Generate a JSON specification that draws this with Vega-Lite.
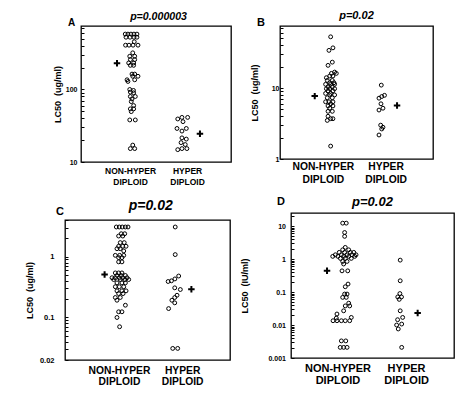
{
"$schema": "https://vega.github.io/schema/vega-lite/v6.json",
"padding": {"left": 24, "top": 9, "right": 5, "bottom": 5},
"autosize": {"type": "pad"},
"config": {
  "view": {"stroke": "black", "strokeWidth": 1.3},
  "font": "Liberation Sans",
  "axis": {"grid": false, "domain": false, "labelFont": "Liberation Sans", "titleFont": "Liberation Sans", "labelFontWeight": "bold", "titleFontWeight": "bold", "labelColor": "black", "titleColor": "black", "tickColor": "black", "labelOverlap": false, "labelFlush": false, "labelBound": false},
  "text": {"font": "Liberation Sans", "fontWeight": "bold", "color": "black"}
},
"datasets": {
  "A": [
    {"x":29.5,"v":580},{"x":31.3,"v":580},{"x":33.3,"v":580},{"x":35.3,"v":580},{"x":37.3,"v":580},
    {"x":30,"v":525},{"x":32.7,"v":525},{"x":35.3,"v":525},{"x":37.3,"v":525},
    {"x":35.5,"v":455},
    {"x":29.7,"v":408},{"x":32,"v":408},{"x":34.7,"v":408},{"x":38,"v":408},
    {"x":34.5,"v":320},
    {"x":32.5,"v":287},{"x":35.8,"v":287},
    {"x":32.9,"v":258},{"x":35.8,"v":258},
    {"x":31.8,"v":232},{"x":35.1,"v":232},
    {"x":32.9,"v":215},{"x":35.1,"v":215},
    {"x":34,"v":163},{"x":35.8,"v":163},
    {"x":34.5,"v":152},{"x":38,"v":152},
    {"x":30.7,"v":136},{"x":35.8,"v":136},
    {"x":31.3,"v":129},
    {"x":32.5,"v":100},{"x":35,"v":97},
    {"x":32.9,"v":92},{"x":35.1,"v":90},
    {"x":32.9,"v":80},{"x":36.2,"v":80},
    {"x":34,"v":74},
    {"x":33.5,"v":68},
    {"x":35.1,"v":60},
    {"x":32.9,"v":54},{"x":35.1,"v":54},
    {"x":33.5,"v":49.5},
    {"x":32.5,"v":38},{"x":36.2,"v":38},
    {"x":34.5,"v":17.1},
    {"x":32.9,"v":15.3},{"x":35.8,"v":15.3},
    {"x":67.3,"v":41.2},{"x":71.1,"v":41.2},{"x":64.5,"v":39.2},{"x":68,"v":36},
    {"x":64,"v":29},{"x":70.2,"v":29},{"x":67.3,"v":26.7},{"x":67.3,"v":21.5},
    {"x":70.2,"v":20.7},{"x":66.7,"v":18.5},{"x":69.5,"v":17.4},{"x":67.3,"v":15.3},
    {"x":70.6,"v":15.3},{"x":64.5,"v":14.8}
  ],
  "Ap": [{"x":24,"v":230},{"x":79.3,"v":24.5}],
  "B": [
    {"x":33.1,"v":52.8},{"x":34.6,"v":36.9},{"x":32,"v":34},{"x":34.2,"v":23.2},{"x":31.4,"v":20.9},
    {"x":35.7,"v":16.8},{"x":33.6,"v":16.1},{"x":36.8,"v":16.1},{"x":32.5,"v":14.8},{"x":34.6,"v":14.8},
    {"x":30.3,"v":14},{"x":30.9,"v":12.8},{"x":34.2,"v":12.8},{"x":32.5,"v":11.9},{"x":35.3,"v":11.9},
    {"x":29.8,"v":11.3},{"x":33.1,"v":11.3},{"x":35.7,"v":11.3},{"x":31.4,"v":10.4},{"x":34.2,"v":10.4},
    {"x":30.3,"v":9.8},{"x":32.5,"v":9.8},{"x":35.7,"v":9.8},{"x":31.4,"v":9.1},{"x":34.6,"v":9.1},
    {"x":29.8,"v":8.4},{"x":33.1,"v":8.4},{"x":32.5,"v":8.0},{"x":35.7,"v":8.0},{"x":30.9,"v":7.3},
    {"x":34.2,"v":7.3},{"x":29.8,"v":6.4},{"x":32,"v":6.4},{"x":34.6,"v":6.4},{"x":33.1,"v":6.0},
    {"x":31.4,"v":5.6},{"x":34.6,"v":5.6},{"x":32.5,"v":5.2},{"x":31.4,"v":4.7},{"x":34.2,"v":4.7},
    {"x":31.4,"v":4.0},{"x":33.1,"v":3.7},{"x":34.6,"v":3.7},{"x":30.9,"v":3.5},{"x":33.1,"v":1.52},
    {"x":66.2,"v":11.0},{"x":64.7,"v":7.2},{"x":66.5,"v":7.6},{"x":68.3,"v":7.9},{"x":66,"v":6.0},
    {"x":67.3,"v":5.2},{"x":64.7,"v":4.9},{"x":65.8,"v":3.0},{"x":67.3,"v":2.8},{"x":66.5,"v":2.65},
    {"x":64.7,"v":2.18}
  ],
  "Bp": [{"x":22.7,"v":7.7},{"x":76.5,"v":5.7}],
  "C": [
    {"x":31.1,"v":3.07},{"x":32.9,"v":3.07},{"x":34.7,"v":3.07},{"x":36.6,"v":3.07},{"x":38.2,"v":3.07},
    {"x":34.1,"v":2.38},{"x":36.2,"v":2.38},
    {"x":32.5,"v":2.18},{"x":35,"v":2.18},
    {"x":33.5,"v":1.7},{"x":35.9,"v":1.7},
    {"x":32.5,"v":1.48},{"x":35,"v":1.48},{"x":37,"v":1.48},
    {"x":31.5,"v":1.35},{"x":33.5,"v":1.35},
    {"x":35.6,"v":1.24},
    {"x":30.5,"v":1.05},{"x":33.1,"v":1.05},{"x":35.6,"v":1.05},
    {"x":32.5,"v":0.963},{"x":34.5,"v":0.963},
    {"x":32.5,"v":0.82},{"x":34.5,"v":0.82},
    {"x":30.5,"v":0.54},{"x":32.5,"v":0.54},{"x":34.5,"v":0.54},
    {"x":31.5,"v":0.49},{"x":34.1,"v":0.49},{"x":36.6,"v":0.49},
    {"x":28.5,"v":0.45},{"x":30.5,"v":0.45},{"x":32.9,"v":0.45},{"x":35,"v":0.45},{"x":37.6,"v":0.45},
    {"x":29.5,"v":0.42},{"x":33.5,"v":0.42},{"x":36.2,"v":0.42},{"x":38.6,"v":0.42},
    {"x":31.5,"v":0.37},{"x":34.5,"v":0.37},{"x":36.6,"v":0.37},
    {"x":30.5,"v":0.32},{"x":32.9,"v":0.32},{"x":35.6,"v":0.32},
    {"x":31.5,"v":0.274},{"x":34.5,"v":0.274},{"x":37,"v":0.274},
    {"x":32.5,"v":0.247},{"x":35.2,"v":0.247},
    {"x":30.5,"v":0.213},{"x":33.5,"v":0.213},
    {"x":31.5,"v":0.192},
    {"x":36.6,"v":0.159},
    {"x":32.5,"v":0.124},{"x":34.5,"v":0.124},
    {"x":31.5,"v":0.1},
    {"x":33.1,"v":0.0704},
    {"x":66.8,"v":3.07},{"x":66.8,"v":1.08},{"x":62.5,"v":0.39},{"x":64.5,"v":0.4},{"x":66.6,"v":0.43},
    {"x":68.9,"v":0.48},{"x":66.5,"v":0.307},{"x":69.9,"v":0.288},{"x":67.9,"v":0.232},{"x":66.5,"v":0.213},
    {"x":64.8,"v":0.192},{"x":66.5,"v":0.174},{"x":62.8,"v":0.14},{"x":65.3,"v":0.031},{"x":68.3,"v":0.031}
  ],
  "Cp": [{"x":24,"v":0.51},{"x":76.6,"v":0.29}],
  "D": [
    {"x":31.7,"v":12.3},{"x":33.9,"v":12.3},{"x":32.9,"v":6.4},{"x":32.9,"v":4.9},{"x":33.3,"v":2.26},
    {"x":31.7,"v":1.91},{"x":35.4,"v":1.91},
    {"x":29.6,"v":1.6},{"x":32.9,"v":1.6},{"x":36.4,"v":1.6},{"x":38.5,"v":1.6},
    {"x":27.2,"v":1.35},{"x":30.9,"v":1.35},{"x":34.4,"v":1.35},{"x":37.4,"v":1.35},{"x":39.9,"v":1.35},
    {"x":25.6,"v":1.21},{"x":28.8,"v":1.21},{"x":32.3,"v":1.21},{"x":35.4,"v":1.21},{"x":39.1,"v":1.21},
    {"x":30.3,"v":1.05},{"x":33.3,"v":1.05},{"x":37,"v":1.05},
    {"x":31.7,"v":0.85},{"x":34.4,"v":0.85},{"x":32.3,"v":0.71},
    {"x":31.3,"v":0.44},{"x":34.8,"v":0.44},
    {"x":35,"v":0.175},{"x":33.3,"v":0.145},
    {"x":32.9,"v":0.087},{"x":34.4,"v":0.087},{"x":31.7,"v":0.069},{"x":33.9,"v":0.069},
    {"x":35.4,"v":0.046},{"x":33.3,"v":0.038},{"x":36,"v":0.038},{"x":32.3,"v":0.027},
    {"x":28.2,"v":0.0216},{"x":37,"v":0.017},{"x":27.8,"v":0.0162},
    {"x":25.8,"v":0.0135},{"x":28.2,"v":0.0135},{"x":30.9,"v":0.0135},{"x":33.3,"v":0.0135},{"x":36,"v":0.0135},
    {"x":30.9,"v":0.0033},{"x":33.6,"v":0.0033},
    {"x":30.2,"v":0.0021},{"x":32.3,"v":0.0021},{"x":34.4,"v":0.0021},
    {"x":67,"v":0.93},{"x":67,"v":0.22},{"x":66.8,"v":0.09},{"x":65.5,"v":0.071},{"x":67.8,"v":0.071},
    {"x":66.4,"v":0.06},{"x":67,"v":0.027},{"x":68.5,"v":0.017},{"x":65.4,"v":0.0145},{"x":67.9,"v":0.0107},
    {"x":64.8,"v":0.01},{"x":65.8,"v":0.0076},{"x":67.9,"v":0.0021}
  ],
  "Dp": [{"x":22.1,"v":0.44},{"x":77.7,"v":0.023}]
},
"spacing": 8,
"resolve": {"scale": {"x": "independent", "y": "independent"}},
"hconcat": [
  {"spacing": 11,
   "resolve": {"scale": {"x": "independent", "y": "independent"}},
   "vconcat": [
    {"spacing": 0, "bounds": "flush",
     "resolve": {"scale": {"x": "independent", "y": "independent"}},
     "hconcat": [
      {"width": 16, "height": 1, "view": {"stroke": null}, "data": {"values": []}, "mark": "point"},
      {"width": 150, "height": 136,
       "layer": [
        {"data": {"name": "A"},
         "mark": {"type": "point", "shape": "circle", "filled": false, "color": "black", "strokeWidth": 1, "size": 15, "opacity": 1},
         "encoding": {
          "x": {"field": "x", "type": "quantitative", "scale": {"domain": [0, 100], "nice": false},
                "axis": {"title": null, "ticks": false, "values": [32.7, 70.7], "labelExpr": "datum.value < 50 ? ['NON-HYPER', 'DIPLOID'] : ['HYPER', 'DIPLOID']", "labelFontSize": 8.5, "labelLineHeight": 11, "labelPadding": 4}},
          "y": {"field": "v", "type": "quantitative", "scale": {"type": "log", "domain": [10, 750], "nice": false},
                "axis": {"title": "LC50\u00a0\u00a0(ug/ml)", "titleFontSize": 9, "titlePadding": 3, "labelFontSize": 7, "offset": -3, "tickSize": 3, "labelPadding": 4,
                         "values": [10,20,30,40,50,60,70,80,90,100,200,300,400,500,600,700],
                         "labelExpr": "datum.value == 10 ? '10' : datum.value == 100 ? '100' : ''"}}
         }},
        {"data": {"name": "Ap"},
         "mark": {"type": "point", "shape": "M-1,0L1,0M0,-1L0,1", "filled": false, "color": "black", "strokeWidth": 2, "size": 42, "opacity": 1},
         "encoding": {"x": {"field": "x", "type": "quantitative"}, "y": {"field": "v", "type": "quantitative"}}},
        {"data": {"values": [{}]},
         "mark": {"type": "text", "text": "A", "align": "left", "baseline": "alphabetic", "fontSize": 10, "dx": -13, "dy": 0},
         "encoding": {"x": {"datum": 0}, "y": {"datum": 750}}},
        {"data": {"values": [{}]},
         "mark": {"type": "text", "text": "p=0.000003", "align": "center", "baseline": "alphabetic", "fontSize": 10.6, "fontStyle": "italic", "dy": -6},
         "encoding": {"x": {"datum": 51.7}, "y": {"datum": 750}}}
       ]}
     ]},
    {"width": 165, "height": 140,
     "layer": [
      {"data": {"name": "C"},
       "mark": {"type": "point", "shape": "circle", "filled": false, "color": "black", "strokeWidth": 1, "size": 15, "opacity": 1},
       "encoding": {
        "x": {"field": "x", "type": "quantitative", "scale": {"domain": [0, 100], "nice": false},
              "axis": {"title": null, "ticks": false, "values": [32.7, 71], "labelExpr": "datum.value < 50 ? ['NON-HYPER', 'DIPLOID'] : ['HYPER', 'DIPLOID']", "labelFontSize": 10.3, "labelLineHeight": 11, "labelPadding": 5}},
        "y": {"field": "v", "type": "quantitative", "scale": {"type": "log", "domain": [0.02, 4], "nice": false},
              "axis": {"title": "LC50\u00a0\u00a0(ug/ml)", "titleFontSize": 9, "titlePadding": 5, "labelFontSize": 7.5, "offset": -3, "tickSize": 3, "labelPadding": 11,
                       "values": [0.02,0.03,0.04,0.05,0.06,0.07,0.08,0.09,0.1,0.2,0.3,0.4,0.5,0.6,0.7,0.8,0.9,1,2,3,4],
                       "labelExpr": "datum.value == 0.02 ? '0.02' : datum.value == 0.1 ? '0.1' : datum.value == 1 ? '1' : ''"}}
       }},
      {"data": {"name": "Cp"},
       "mark": {"type": "point", "shape": "M-1,0L1,0M0,-1L0,1", "filled": false, "color": "black", "strokeWidth": 2, "size": 42, "opacity": 1},
       "encoding": {"x": {"field": "x", "type": "quantitative"}, "y": {"field": "v", "type": "quantitative"}}},
      {"data": {"values": [{}]},
       "mark": {"type": "text", "text": "C", "align": "left", "baseline": "alphabetic", "fontSize": 11, "dx": -9, "dy": -5},
       "encoding": {"x": {"datum": 0}, "y": {"datum": 4}}},
      {"data": {"values": [{}]},
       "mark": {"type": "text", "text": "p=0.02", "align": "center", "baseline": "alphabetic", "fontSize": 14, "fontStyle": "italic", "dy": -10},
       "encoding": {"x": {"datum": 52}, "y": {"datum": 4}}}
     ]}
   ]},
  {"spacing": 9,
   "resolve": {"scale": {"x": "independent", "y": "independent"}},
   "vconcat": [
    {"width": 153, "height": 133,
     "layer": [
      {"data": {"name": "B"},
       "mark": {"type": "point", "shape": "circle", "filled": false, "color": "black", "strokeWidth": 1, "size": 15, "opacity": 1},
       "encoding": {
        "x": {"field": "x", "type": "quantitative", "scale": {"domain": [0, 100], "nice": false},
              "axis": {"title": null, "ticks": false, "values": [28, 69], "labelExpr": "datum.value < 50 ? ['NON-HYPER', 'DIPLOID'] : ['HYPER', 'DIPLOID']", "labelFontSize": 10.3, "labelLineHeight": 13, "labelPadding": 2}},
        "y": {"field": "v", "type": "quantitative", "scale": {"type": "log", "domain": [1, 75], "nice": false},
              "axis": {"title": "LC50\u00a0\u00a0(ug/ml)", "titleFontSize": 9, "titlePadding": 12, "labelFontSize": 7, "offset": -3, "tickSize": 3, "labelPadding": 1,
                       "values": [1,2,3,4,5,6,7,8,9,10,20,30,40,50,60,70],
                       "labelExpr": "datum.value == 1 ? '1' : datum.value == 10 ? '10' : ''"}}
       }},
      {"data": {"name": "Bp"},
       "mark": {"type": "point", "shape": "M-1,0L1,0M0,-1L0,1", "filled": false, "color": "black", "strokeWidth": 2, "size": 42, "opacity": 1},
       "encoding": {"x": {"field": "x", "type": "quantitative"}, "y": {"field": "v", "type": "quantitative"}}},
      {"data": {"values": [{}]},
       "mark": {"type": "text", "text": "B", "align": "left", "baseline": "alphabetic", "fontSize": 11, "dx": -23, "dy": 0},
       "encoding": {"x": {"datum": 0}, "y": {"datum": 75}}},
      {"data": {"values": [{}]},
       "mark": {"type": "text", "text": "p=0.02", "align": "center", "baseline": "alphabetic", "fontSize": 11, "fontStyle": "italic", "dy": -7},
       "encoding": {"x": {"datum": 50}, "y": {"datum": 75}}}
     ]},
    {"spacing": 0, "bounds": "flush",
     "resolve": {"scale": {"x": "independent", "y": "independent"}},
     "hconcat": [
      {"width": 11, "height": 1, "view": {"stroke": null}, "data": {"values": []}, "mark": "point"},
      {"width": 163, "height": 145,
       "layer": [
        {"data": {"name": "D"},
         "mark": {"type": "point", "shape": "circle", "filled": false, "color": "black", "strokeWidth": 1, "size": 15, "opacity": 1},
         "encoding": {
          "x": {"field": "x", "type": "quantitative", "scale": {"domain": [0, 100], "nice": false},
                "axis": {"title": null, "ticks": false, "values": [28.5, 70.6], "labelExpr": "datum.value < 50 ? ['NON-HYPER', 'DIPLOID'] : ['HYPER', 'DIPLOID']", "labelFontSize": 11, "labelLineHeight": 12, "labelPadding": 4}},
          "y": {"field": "v", "type": "quantitative", "scale": {"type": "log", "domain": [0.001, 25], "nice": false},
                "axis": {"title": "LC50\u00a0\u00a0(IU/ml)", "titleFontSize": 9, "titlePadding": 18, "labelFontSize": 7, "offset": -3, "tickSize": 3, "labelPadding": 5.5,
                         "values": [0.001,0.002,0.003,0.004,0.005,0.006,0.007,0.008,0.009,0.01,0.02,0.03,0.04,0.05,0.06,0.07,0.08,0.09,0.1,0.2,0.3,0.4,0.5,0.6,0.7,0.8,0.9,1,2,3,4,5,6,7,8,9,10,20],
                         "labelExpr": "datum.value == 0.001 ? '0.001' : datum.value == 0.01 ? '0.01' : datum.value == 0.1 ? '0.1' : datum.value == 1 ? '1' : datum.value == 10 ? '10' : ''"}}
         }},
        {"data": {"name": "Dp"},
         "mark": {"type": "point", "shape": "M-1,0L1,0M0,-1L0,1", "filled": false, "color": "black", "strokeWidth": 2, "size": 42, "opacity": 1},
         "encoding": {"x": {"field": "x", "type": "quantitative"}, "y": {"field": "v", "type": "quantitative"}}},
        {"data": {"values": [{}]},
         "mark": {"type": "text", "text": "D", "align": "left", "baseline": "alphabetic", "fontSize": 11, "dx": -14, "dy": -8},
         "encoding": {"x": {"datum": 0}, "y": {"datum": 25}}},
        {"data": {"values": [{}]},
         "mark": {"type": "text", "text": "p=0.02", "align": "center", "baseline": "alphabetic", "fontSize": 13, "fontStyle": "italic", "dy": -7.5},
         "encoding": {"x": {"datum": 50}, "y": {"datum": 25}}}
       ]}
     ]}
   ]}
]
}
